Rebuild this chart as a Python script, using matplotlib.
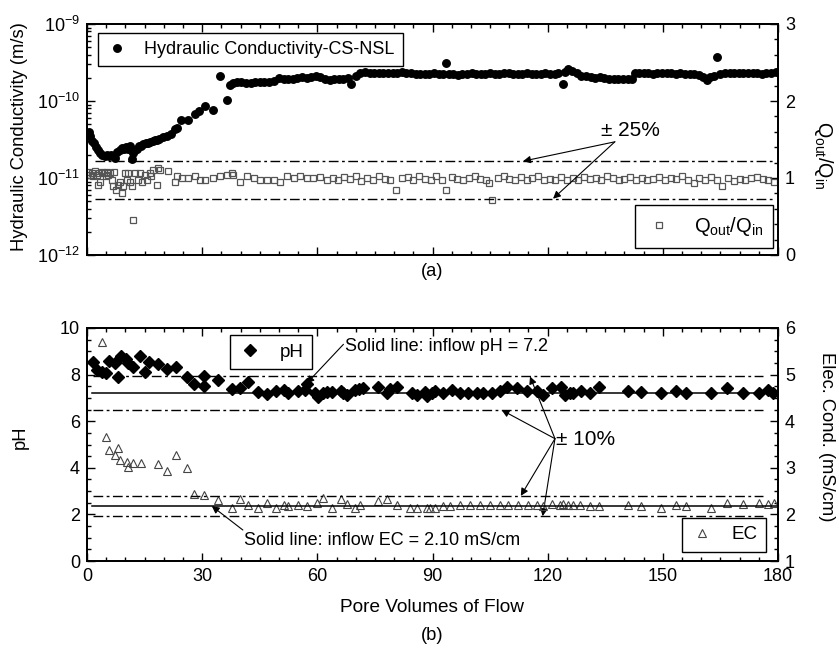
import matplotlib
matplotlib.use("Agg")
import matplotlib.pyplot as plt
from matplotlib.ticker import MultipleLocator, LogLocator, NullFormatter
import numpy as np

plt.rcParams['font.family'] = ['Liberation Sans', 'DejaVu Sans']
plt.rcParams['mathtext.fontset'] = 'custom'
plt.rcParams['mathtext.rm'] = 'Liberation Sans'
plt.rcParams['mathtext.it'] = 'Liberation Sans:italic'

# ---------------- data: panel (a) ----------------
k_pv = [0.4, 0.9, 1.4, 1.9, 2.4, 2.9, 3.4, 4.0, 4.6, 5.2, 5.7, 6.3, 6.9, 7.4, 7.9, 8.5,
        9.1, 9.6, 10.2, 10.7, 11.2, 11.6, 12.0, 12.5, 13.0, 13.6, 14.1, 14.7, 15.3, 15.9,
        16.5, 17.1, 17.7, 18.2, 18.8, 19.8, 20.8, 21.8, 23.0, 23.5, 24.5, 26.4, 28.1, 29.3,
        30.7, 32.9, 34.6, 36.4, 37.2, 38.0, 39.0, 40.2, 41.4, 42.6, 43.8, 45.0, 46.2, 47.4,
        48.6, 50.0, 51.2, 52.4, 53.6, 54.8, 56.0, 57.2, 58.4, 59.6, 60.8,
        62.0, 63.2, 64.4, 65.6, 66.8, 68.0, 68.9, 70.0, 71.2, 72.4, 73.6, 74.8, 76.0, 77.2,
        78.4, 79.6, 80.8, 82.0, 83.2, 84.4, 85.6, 86.8, 88.0, 89.2, 90.4, 91.6, 92.8, 93.5,
        94.2, 95.4, 96.6, 97.8, 99.0, 100.2, 101.4, 102.6, 103.8, 105.0, 106.2, 107.4, 108.6,
        109.8, 111.0, 112.2, 113.4, 114.6, 115.8, 117.0, 118.2, 119.4, 120.6, 121.8, 122.6,
        123.9, 124.6, 125.4, 126.4, 127.6, 128.8, 130.0, 131.2, 132.4, 133.6, 134.8, 136.0,
        137.2, 138.4, 139.6, 140.8, 141.9, 142.7, 143.8, 145.0, 146.2, 147.4, 148.6, 149.8,
        151.0, 152.2, 153.4, 154.6, 155.8, 157.0, 158.2, 159.4, 160.4, 161.4, 162.4, 163.4,
        164.2, 165.0, 166.2, 167.4, 168.6, 169.8, 171.0, 172.2, 173.4, 174.6, 175.8, 177.0,
        178.2, 179.4]
# hydraulic conductivity in units of 1e-11 m/s
k_val_e11 = [3.98, 3.55, 3.02, 2.82, 2.51, 2.29, 2.09, 2.00, 1.95, 2.00, 1.95, 2.00, 1.91, 1.82,
             2.19, 2.34, 2.45, 2.40, 2.51, 2.40, 2.57, 1.78, 2.09, 2.29, 2.40, 2.57, 2.63, 2.75,
             2.82, 2.82, 2.95, 3.02, 3.09, 3.16, 3.24, 3.39, 3.55, 3.72, 4.27, 4.47, 5.62, 5.62,
             6.76, 7.41, 8.51, 7.59, 20.9, 10.2, 16.2, 17.0, 17.8, 17.4, 17.0, 17.0, 17.4, 17.4,
             17.8, 17.8, 18.2, 20.0, 19.1, 19.5, 19.5, 20.0, 20.4, 20.0, 20.4, 20.9, 20.4,
             19.1, 18.6, 19.1, 19.5, 19.5, 20.0, 16.6, 21.4, 23.4, 24.0, 23.4, 23.4, 22.9, 23.4,
             22.9, 23.4, 23.4, 24.0, 23.4, 22.9, 22.4, 22.4, 22.4, 22.4, 22.9, 22.4, 22.4, 31.6,
             22.4, 22.4, 21.9, 22.4, 22.4, 22.9, 22.4, 22.4, 22.4, 22.9, 22.4, 22.4, 22.9,
             22.9, 22.4, 22.4, 22.4, 22.9, 22.4, 22.4, 22.4, 22.9, 22.4, 22.4, 22.9,
             16.6, 24.0, 26.3, 24.5, 22.9, 21.4, 20.9, 20.4, 20.0, 20.4, 20.0, 19.5,
             19.5, 19.5, 19.1, 19.5, 19.5, 22.9, 22.9, 22.9, 22.9, 22.4, 22.9, 22.9,
             22.9, 22.9, 22.4, 22.9, 22.4, 22.4, 22.4, 21.9, 20.4, 18.6, 20.4, 21.4,
             37.2, 22.4, 22.9, 22.9, 22.9, 22.9, 22.9, 23.4, 22.9, 22.9, 22.4, 22.9,
             22.9, 24.0]

q_pv = [0.35, 0.8, 1.2, 1.6, 2.1, 2.5, 2.9, 3.2, 3.5, 4.0, 4.4, 4.9, 5.1, 5.6, 6.0, 6.4, 6.9,
        7.1, 7.6, 8.2, 8.6, 9.0, 9.5, 9.9, 10.3, 10.8, 11.2, 11.6, 12.0, 12.5, 13.3, 13.8,
        14.2, 15.1, 15.5, 16.4, 16.8, 17.3, 18.2, 18.6, 19.0, 21.2, 22.9, 23.4, 24.7, 26.4,
        28.1, 29.4, 30.7, 32.9, 34.6, 36.4, 37.7, 38.1, 39.9, 41.6, 43.4, 45.1, 46.8, 48.6,
        50.3, 52.1, 53.8, 55.5, 57.3, 59.0, 60.7,
        62.5, 64.0, 65.5, 67.0, 68.5, 70.0, 71.5, 73.0, 74.5, 76.0, 77.5, 79.0, 80.6, 82.0,
        83.5, 85.0, 86.5, 88.0, 89.5, 91.0, 92.5, 93.5, 95.0, 96.5, 98.0, 99.5, 101.0, 102.5,
        104.0, 104.6, 105.4, 107.0, 108.5, 110.0, 111.5, 113.0, 114.5, 116.0, 117.5, 119.0,
        120.5, 122.0, 123.5, 125.0, 126.5, 128.0, 129.5, 131.0, 132.5, 134.0, 135.5, 137.0,
        138.5, 140.0, 141.5, 143.0, 144.5, 146.0, 147.5, 149.0, 150.5, 152.0, 153.5, 155.0,
        156.5, 158.0, 159.5, 161.0, 162.5, 164.0, 165.5, 167.0, 168.5, 170.0, 171.5, 173.0,
        174.5, 176.0, 177.5, 179.0]
q_val = [1.08, 1.04, 1.06, 1.02, 1.09, 1.04, 0.91, 1.06, 0.95, 1.08, 1.06, 1.02, 1.08, 1.04,
         1.06, 0.97, 0.89, 1.08, 0.84, 0.91, 0.95, 0.81, 0.89, 1.06, 0.97, 1.06, 0.95, 0.89,
         0.45, 1.06, 0.97, 1.06, 0.95, 1.04, 0.97, 1.06, 1.02, 1.10, 0.91, 1.13, 1.10, 1.09,
         0.95, 1.02, 1.00, 1.00, 1.02, 0.97, 0.97, 1.00, 1.02, 1.04, 1.07, 1.04, 0.95, 1.02,
         1.00, 0.97, 0.97, 0.97, 0.95, 1.02, 1.00, 1.02, 1.00, 1.00, 1.01,
         0.98, 1.00, 0.97, 1.01, 0.99, 1.02, 0.96, 1.00, 0.98, 1.03, 0.99, 0.97, 0.85, 1.00,
         1.01, 0.98, 1.03, 0.99, 0.97, 1.02, 0.98, 0.85, 1.01, 0.99, 0.98, 1.00, 1.02, 0.99,
         0.97, 0.93, 0.71, 1.00, 1.02, 0.99, 0.98, 1.01, 0.97, 1.00, 1.02, 0.98,
         0.99, 0.97, 1.01, 0.98, 1.00, 0.97, 1.01, 0.99, 1.00, 0.98, 1.02, 1.00,
         0.98, 0.99, 1.01, 0.98, 1.00, 0.97, 0.99, 1.01, 0.98, 1.00, 0.99, 1.02,
         0.97, 0.93, 1.00, 0.98, 1.01, 0.97, 0.90, 1.00, 0.96, 0.99, 0.97, 1.00,
         1.01, 0.99, 0.97, 0.95]

q_ref = 0.975          # centre of the +/-25 % band
q_band = 0.25

# ---------------- data: panel (b) ----------------
ph_pv = [1.6, 2.7, 3.8, 4.9, 5.8, 7.3, 8.0, 8.8, 10.2, 10.8, 11.9, 13.8, 15.1, 16.2, 18.6,
         20.9, 23.1, 26.0, 28.0, 30.5, 30.5, 34.2, 37.7, 39.9, 42.0, 44.5, 47.0, 49.2, 51.3,
         52.4, 54.9, 56.8, 57.2, 59.4, 60.3, 61.6, 62.4, 63.9, 66.1, 66.8, 67.6, 69.8, 70.9,
         72.0, 75.7, 78.2, 78.9, 80.7, 84.6, 85.9, 88.0, 88.6, 89.8, 90.6, 92.8, 95.0, 97.2,
         99.3, 101.5, 103.2, 105.4, 107.6, 109.3, 111.9, 114.5, 117.1, 118.9, 121.0, 123.6,
         124.5, 125.8, 126.7, 128.6, 131.0, 133.5, 141.0, 144.2, 149.5, 153.4, 156.0, 162.5,
         166.6, 170.8, 175.0, 177.5, 178.8]
ph_val = [8.53, 8.20, 8.12, 8.05, 8.60, 8.51, 7.91, 8.80, 8.66, 8.48, 8.34, 8.80, 8.12, 8.55,
          8.44, 8.24, 8.31, 7.91, 7.58, 7.95, 7.51, 7.77, 7.38, 7.41, 7.67, 7.24, 7.15, 7.30,
          7.34, 7.20, 7.31, 7.34, 7.60, 7.22, 7.05, 7.20, 7.27, 7.27, 7.30, 7.20, 7.12, 7.34,
          7.38, 7.41, 7.48, 7.20, 7.38, 7.48, 7.20, 7.12, 7.27, 7.08, 7.22, 7.30, 7.22, 7.34,
          7.22, 7.22, 7.22, 7.22, 7.22, 7.30, 7.48, 7.41, 7.30, 7.30, 7.12, 7.41, 7.48, 7.12,
          7.20, 7.22, 7.31, 7.22, 7.48, 7.30, 7.27, 7.22, 7.31, 7.22, 7.22, 7.44, 7.22, 7.22,
          7.34, 7.22]

ec_pv = [3.8, 4.9, 5.8, 7.3, 8.0, 8.6, 10.3, 10.8, 11.9, 14.0, 18.6, 20.9, 23.1, 26.0, 28.0,
         30.5, 34.2, 37.7, 39.9, 42.0, 44.6, 47.0, 49.2, 51.3, 52.4, 54.9, 57.2, 59.8, 61.6,
         63.9, 66.1, 67.6, 69.8, 71.1, 75.9, 78.2, 80.7, 84.1, 85.9, 88.5, 89.3, 90.6, 92.8,
         94.6, 97.2, 99.8, 102.4, 105.0, 107.6, 109.7, 112.3, 115.0, 117.1, 118.9, 121.0,
         123.2, 124.1, 125.4, 126.7, 128.4, 131.0, 133.5, 141.0, 144.2, 149.5, 153.4, 156.0,
         162.5, 166.6, 170.8, 175.0, 177.5, 179.0]
ec_val = [5.69, 3.67, 3.38, 3.27, 3.43, 3.17, 3.13, 3.02, 3.10, 3.10, 3.08, 2.94, 3.27, 3.00,
          2.44, 2.42, 2.31, 2.14, 2.33, 2.20, 2.14, 2.25, 2.14, 2.20, 2.18, 2.20, 2.17, 2.25,
          2.35, 2.14, 2.33, 2.23, 2.14, 2.20, 2.28, 2.33, 2.20, 2.14, 2.14, 2.14, 2.13, 2.13,
          2.17, 2.18, 2.20, 2.20, 2.20, 2.20, 2.20, 2.20, 2.20, 2.20, 2.20, 2.17, 2.23, 2.20,
          2.23, 2.20, 2.20, 2.20, 2.19, 2.19, 2.20, 2.19, 2.14, 2.20, 2.18, 2.14, 2.25, 2.23,
          2.25, 2.23, 2.25]

ph_inflow = 7.2
ec_line = 2.18
band_b = 0.10

x_ticks = [0, 30, 60, 90, 120, 150, 180]

# ---------------- figure ----------------
fig = plt.figure(figsize=(8.39, 6.5), dpi=100)
W, H = 839, 650
L, R = 87, 778
ax = fig.add_axes([L / W, 1 - 255 / H, (R - L) / W, (255 - 24) / H])
ax2 = ax.twinx()
bx = fig.add_axes([L / W, 1 - 561 / H, (R - L) / W, (561 - 328) / H])
bx2 = bx.twinx()

tick_fs = 13
lab_fs = 13.2
ann_fs = 13
leg_fs = 13
pm_fs = 15


def style(a):
    for s in a.spines.values():
        s.set_linewidth(1.3)
    a.tick_params(which='both', direction='in', width=1.0, labelsize=tick_fs, pad=5)
    a.tick_params(which='major', length=6)
    a.tick_params(which='minor', length=3)


dash = (7, 2.5, 2, 2.5)

# ----- panel (a) -----
k_vals = np.array(k_val_e11) * 1e-11
ax.plot(k_pv, k_vals, 'o', color='black', ms=5.4, mec='black', zorder=3,
        label='Hydraulic Conductivity-CS-NSL')
ax.set_yscale('log')
ax.set_ylim(1e-12, 1e-9)
ax.set_xlim(0, 180)
ax.xaxis.set_major_locator(MultipleLocator(30))
ax.xaxis.set_minor_locator(MultipleLocator(5))
ax.yaxis.set_minor_locator(LogLocator(base=10, subs=np.arange(2, 10)))
ax.yaxis.set_minor_formatter(NullFormatter())
ax.tick_params(top=True, which='both')
style(ax)
ax.tick_params(labelbottom=False)

ax2.plot(q_pv, q_val, 's', mfc='none', mec='#555555', mew=0.9, ms=4.8, zorder=2,
         label=r'$\mathregular{Q_{out}/Q_{in}}$')
x_lo, x_hi = 2, 179
for f in (1 + q_band, 1 - q_band):
    ax2.plot([x_lo, x_hi], [q_ref * f, q_ref * f], color='black', lw=1.0, dashes=dash)
ax2.set_ylim(0, 3)
ax2.yaxis.set_major_locator(MultipleLocator(1))
ax2.yaxis.set_minor_locator(MultipleLocator(0.2))
style(ax2)
ax2.tick_params(which='both', right=True, left=False)

leg1 = ax.legend(loc='upper left', bbox_to_anchor=(0.016, 0.962), borderaxespad=0,
                 fontsize=leg_fs, frameon=True, fancybox=False, edgecolor='black',
                 framealpha=1, handletextpad=0.9, borderpad=0.45, handlelength=1.2)
leg1.get_frame().set_linewidth(1.0)
leg2 = ax2.legend(loc='lower right', bbox_to_anchor=(0.993, 0.03), borderaxespad=0,
                  fontsize=leg_fs + 1.5, frameon=True, fancybox=False, edgecolor='black',
                  framealpha=1, handletextpad=1.0, borderpad=0.5, handlelength=1.4)
leg2.get_frame().set_linewidth(1.0)

ap = dict(arrowstyle='-|>', lw=0.8, color='black', mutation_scale=11,
          shrinkA=0, shrinkB=0)
ax2.text(134.0, 1.62, '± 25%', fontsize=pm_fs, va='center', ha='left')
ax2.annotate('', xy=(113.6, q_ref * (1 + q_band)), xytext=(137.5, 1.47), arrowprops=ap)
ax2.annotate('', xy=(121.4, q_ref * (1 - q_band)), xytext=(137.5, 1.47), arrowprops=ap)

fig.text(20 / W, 1 - 137 / H, 'Hydraulic Conductivity (m/s)', rotation=90,
         ha='center', va='center', fontsize=lab_fs)
fig.text(823 / W, 1 - 155 / H, r'$\mathregular{Q_{out}/Q_{in}}$', rotation=270,
         ha='center', va='center', fontsize=lab_fs + 1)
fig.text(432 / W, 1 - 271 / H, '(a)', ha='center', va='center', fontsize=lab_fs)

# ----- panel (b) -----
bx.plot(ph_pv, ph_val, 'D', color='black', ms=6.2, zorder=3, label='pH')
xs = [ph_pv[0] - 0.4, 180]
bx.plot(xs, [ph_inflow, ph_inflow], color='black', lw=1.1)
for f in (1 + band_b, 1 - band_b):
    bx.plot([1.5, 176], [ph_inflow * f, ph_inflow * f], color='black', lw=1.0, dashes=dash)
bx.set_xlim(0, 180)
bx.set_ylim(0, 10)
bx.set_xticks(x_ticks)
bx.xaxis.set_minor_locator(MultipleLocator(5))
bx.yaxis.set_major_locator(MultipleLocator(2))
bx.yaxis.set_minor_locator(MultipleLocator(0.5))
bx.tick_params(top=True, which='both')
style(bx)

bx2.plot(ec_pv, ec_val, '^', mfc='none', mec='#444444', mew=0.8, ms=6.0, zorder=2, label='EC')
bx2.plot(xs, [ec_line, ec_line], color='black', lw=1.1)
for f in (1 + band_b, 1 - band_b):
    bx2.plot([1.5, 176], [ec_line * f, ec_line * f], color='black', lw=1.0, dashes=dash)
bx2.set_ylim(1, 6)
bx2.yaxis.set_major_locator(MultipleLocator(1))
bx2.yaxis.set_minor_locator(MultipleLocator(0.25))
style(bx2)
bx2.tick_params(which='both', right=True, left=False)

leg3 = bx.legend(loc='upper left', bbox_to_anchor=(0.207, 0.970), borderaxespad=0,
                 fontsize=leg_fs + 0.5, frameon=True, fancybox=False, edgecolor='black',
                 framealpha=1, handletextpad=1.0, borderpad=0.45, handlelength=1.2)
leg3.get_frame().set_linewidth(1.0)
leg4 = bx2.legend(loc='lower right', bbox_to_anchor=(0.983, 0.039), borderaxespad=0,
                  fontsize=leg_fs + 0.5, frameon=True, fancybox=False, edgecolor='black',
                  framealpha=1, handletextpad=1.0, borderpad=0.45, handlelength=1.2)
leg4.get_frame().set_linewidth(1.0)

bx.text(67.3, 9.2, 'Solid line: inflow pH = 7.2', fontsize=ann_fs, va='center', ha='left')
bx.annotate('', xy=(57.2, 7.62), xytext=(66.8, 9.3), arrowprops=ap)

bx.text(41.0, 0.9, 'Solid line: inflow EC = 2.10 mS/cm', fontsize=ann_fs, va='center', ha='left')
bx.annotate('', xy=(32.5, (ec_line - 1) * 2), xytext=(40.6, 1.33), arrowprops=ap)

bx.text(122.3, 5.2, '± 10%', fontsize=pm_fs, va='center', ha='left')
tail = (121.9, 5.25)
bx.annotate('', xy=(108.0, ph_inflow * (1 - band_b)), xytext=tail, arrowprops=ap)
bx.annotate('', xy=(115.4, ph_inflow * (1 + band_b)), xytext=tail, arrowprops=ap)
bx.annotate('', xy=(113.0, (ec_line * (1 + band_b) - 1) * 2), xytext=tail, arrowprops=ap)
bx.annotate('', xy=(118.7, (ec_line * (1 - band_b) - 1) * 2), xytext=tail, arrowprops=ap)

fig.text(20 / W, 1 - 437 / H, 'pH', rotation=90, ha='center', va='center', fontsize=lab_fs)
fig.text(826 / W, 1 - 437 / H, 'Elec. Cond. (mS/cm)', rotation=270,
         ha='center', va='center', fontsize=lab_fs)
fig.text(432 / W, 1 - 608 / H, 'Pore Volumes of Flow', ha='center', va='center', fontsize=lab_fs + 0.5)
fig.text(432 / W, 1 - 635 / H, '(b)', ha='center', va='center', fontsize=lab_fs)

fig.savefig('out.png', dpi=100)
